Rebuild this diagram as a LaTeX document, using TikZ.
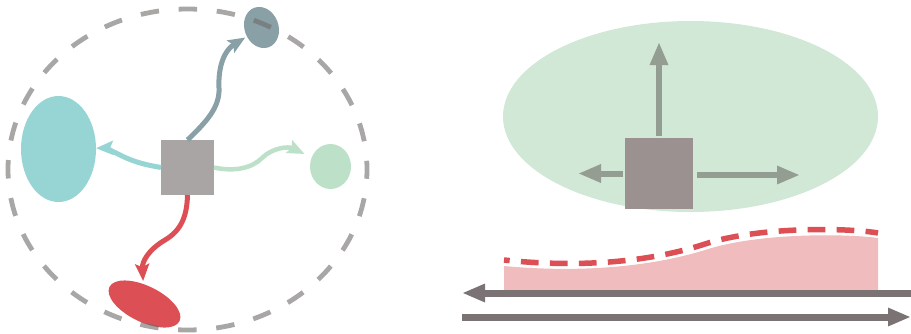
\documentclass[tikz,border=0pt]{standalone}
\usetikzlibrary{arrows.meta,shapes.geometric}
\definecolor{cteal}{HTML}{88A0A6}
\definecolor{ccyan}{HTML}{96D5D3}
\definecolor{cmint}{HTML}{BDE0C8}
\definecolor{cred}{HTML}{DC4F55}
\definecolor{cbox}{HTML}{A9A5A5}
\definecolor{cring}{HTML}{706B6B}
\definecolor{cfield}{HTML}{D0E8D5}
\definecolor{cmass}{HTML}{9B9191}
\definecolor{cforce}{HTML}{939D92}
\definecolor{cpink}{HTML}{F0BCBD}
\definecolor{cflow}{HTML}{7B7273}
\begin{document}
\begin{tikzpicture}[x=1pt,y=-1pt,
  blob/.style={ellipse, draw=none, inner sep=0pt, outer sep=0pt},
  sq/.style={rectangle, draw=none, inner sep=0pt, outer sep=0pt},
  conn/.style={line width=5pt, -{Stealth[length=17pt,width=14pt,inset=3pt]}},
  bigarrow/.style={line width=6pt, -{Triangle[length=23pt,width=17pt]}},
  flowarrow/.style={line width=7pt, cflow, -{Triangle[length=23pt,width=17pt]}}]
\useasboundingbox (0,0) rectangle (911,333);

% ---------- left panel ----------
\node[blob, fill=ccyan, minimum width=75pt, minimum height=106pt] (cyanE) at (58.5,149) {};
\node[blob, fill=cmint, minimum width=41pt, minimum height=45pt] (mintE) at (330.5,166.5) {};
\node[blob, fill=cteal, minimum width=34pt, minimum height=42pt, rotate=20] (tealE) at (261.5,27.5) {};
\node[blob, fill=cred, minimum width=78pt, minimum height=36pt, rotate=-26] (redE) at (144.5,304) {};
\node[sq, fill=cbox, minimum width=53pt, minimum height=55pt] (hub) at (187.5,167.5) {};

\draw[conn, cteal, shorten >=2pt] (hub.north) .. controls (205,123) and (220,108) .. (219,88)
  .. controls (218,65) and (225,50) .. (tealE);
\draw[conn, ccyan] (hub.west) .. controls (140,164) and (130,160) .. (120,155)
  .. controls (112,151) and (105,148) .. (cyanE);
\draw[conn, cmint, line width=4.5pt, shorten >=8pt] (hub.east) .. controls (235,172) and (252,168) .. (262,158)
  .. controls (272,148) and (288,146) .. (mintE);
\draw[conn, cred, shorten >=3pt] (hub.south) .. controls (187,215) and (182,230) .. (165,240)
  .. controls (148,250) and (142,262) .. (redE);

\draw[cring, opacity=0.6, line width=4.8pt, dash pattern=on 18.5pt off 19.7pt, dash phase=9.25pt]
  (187.5,169.5) ellipse [x radius=179.5, y radius=160.5];

% ---------- right panel ----------
\node[blob, fill=cfield, minimum width=375pt, minimum height=191pt] (field) at (690.5,116.5) {};
\node[sq, fill=cmass, minimum width=68pt, minimum height=71pt] (mass) at (659,173.5) {};
\coordinate (upTip) at (659,42);
\coordinate (leftTip) at (578,173.5);
\coordinate (rightTip) at (800,175);
\draw[bigarrow, cforce] ([yshift=2pt]mass.north) -- (upTip);
\draw[bigarrow, cforce] ([xshift=-2pt]mass.west) -- (leftTip);
\draw[bigarrow, cforce] ([xshift=4pt,yshift=-1.5pt]mass.east) -- (rightTip);

% ---------- bottom ----------
\fill[cpink] (504,266) .. controls (580,273) and (650,267) .. (705,250)
  .. controls (760,232) and (850,234) .. (878,238) -- (878,293) -- (504,293) -- cycle;
\draw[cred, line width=5.5pt, dash pattern=on 17.7pt off 11.3pt, dash phase=12pt]
  (504,260) .. controls (580,268) and (650,262) .. (705,244)
  .. controls (760,226) and (850,228) .. (878,233);
\coordinate (topStart) at (911,293);
\coordinate (topTip) at (462,293);
\coordinate (botStart) at (462,317);
\coordinate (botTip) at (911,317);
\draw[flowarrow] (topStart) -- (topTip);
\draw[flowarrow] (botStart) -- (botTip);
\end{tikzpicture}
\end{document}
